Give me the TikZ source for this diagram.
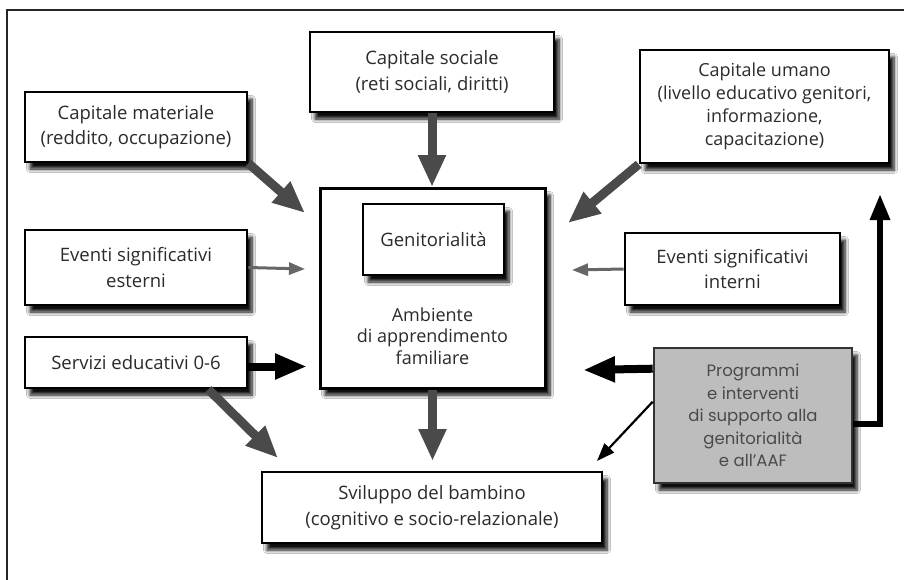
\documentclass[tikz,border=0pt]{standalone}
\usepackage{fontspec}
\setmainfont{Open Sans}
\newfontfamily\progfont{Poppins}
\usetikzlibrary{arrows.meta,shadows.blur}
\definecolor{txt}{HTML}{2B2B2B}
\definecolor{arrgray}{HTML}{4A4A4A}
\definecolor{thingray}{HTML}{666666}
\definecolor{progfill}{HTML}{BDBDBD}
\definecolor{progtxt}{HTML}{4A4A4A}
\begin{document}
\begin{tikzpicture}[x=1pt,y=-1pt,
  shad/.style={blur shadow={shadow xshift=5pt, shadow yshift=-7pt, shadow blur radius=3.5pt, shadow opacity=95, shadow blur steps=8}},
  box/.style={draw=black, line width=2.6pt, fill=white, align=center, text=txt,
    font=\fontsize{18.5}{25.5}\selectfont, inner sep=0pt, shad},
  grayarr/.style={draw=arrgray, line width=9pt, -{Triangle[length=32pt,width=26pt]}, arrgray},
  blackarr/.style={draw=black, line width=8pt, -{Triangle[length=32pt,width=24pt]}},
  upArr/.style={draw=black, line width=6pt, -{Triangle[length=26pt,width=19pt]}},
  thinarr/.style={draw=thingray, line width=3pt, -{Triangle[length=16pt,width=12pt]}, thingray},
  thinblack/.style={draw=black, line width=2.2pt, -{Triangle[length=18pt,width=13pt]}}
]
\clip (0,0) rectangle (904,579);
\fill[white] (0,0) rectangle (904,579);
% outer frame (cropped at right and bottom)
\draw[line width=2.6pt, draw=black!85] (7,600) -- (7,10) -- (920,10);

% nodes
\node[box, minimum width=244pt, minimum height=80pt] (soc) at (432,72) {Capitale sociale\\(reti sociali, diritti)};
\node[box, minimum width=222pt, minimum height=70pt] (mat) at (136,127) {Capitale materiale\\(reddito, occupazione)};
\node[box, minimum width=249pt, minimum height=113pt, font=\fontsize{18}{23}\selectfont] (uman) at (764.5,106.5) {Capitale umano\\(livello educativo genitori,\\informazione,\\capacitazione)};
\node[box, line width=3pt, minimum width=225pt, minimum height=200pt] (amb) at (432.5,288) {};
\node[box, minimum width=141pt, minimum height=71pt] (gen) at (433.5,239.5) {Genitorialità};
\node[align=center, text=txt, font=\fontsize{18}{21.5}\selectfont] (ambtxt) at (432.5,336) {Ambiente\\di apprendimento\\familiare};
\node[box, minimum width=222pt, minimum height=75pt] (este) at (136,267.5) {Eventi significativi\\esterni};
\node[box, minimum width=215pt, minimum height=72pt] (inte) at (732.5,269) {Eventi significativi\\interni};
\node[box, minimum width=222pt, minimum height=51pt] (serv) at (136,362.5) {Servizi educativi 0-6};
\node[box, minimum width=340pt, minimum height=71pt] (svil) at (432,507.5) {Sviluppo del bambino\\(cognitivo e socio-relazionale)};
\node[box, fill=progfill, draw=black!80, text=progtxt, minimum width=198pt, minimum height=135pt,
  font=\progfont\fontsize{16.5}{22.5}\selectfont] (prog) at (753,415.5) {Programmi\\e interventi\\di supporto alla\\genitorialità\\e all’AAF};

% arrow tips
\coordinate (t1) at (305,213);
\coordinate (t2) at (432,187);
\coordinate (t3) at (568,223);
\coordinate (t4) at (305,269);
\coordinate (t5) at (572,270);
\coordinate (t6) at (307,366.5);
\coordinate (t7) at (278,458);
\coordinate (t8) at (432.5,461);
\coordinate (t9) at (583,370);
\coordinate (t10) at (597,461);
\coordinate (t11) at (880,194);

% connectors
\draw[grayarr] (mat.south east) -- (t1);
\draw[grayarr] (soc.south) -- (t2);
\draw[grayarr] (uman.south west) -- (t3);
\draw[thinarr] (este.east) -- (t4);
\draw[thinarr] (inte.west) -- (t5);
\draw[blackarr] ([yshift=-4pt]serv.east) -- (t6);
\draw[grayarr] ([xshift=-40pt]serv.south east) -- (t7);
\draw[grayarr] (amb.south) -- (t8);
\draw[blackarr] ([yshift=-22pt]prog.north west) -- (t9);
\draw[thinblack] ([yshift=-55pt]prog.north west) -- (t10);
\draw[upArr] ([yshift=-8pt]prog.east) -| (t11);
\end{tikzpicture}
\end{document}
